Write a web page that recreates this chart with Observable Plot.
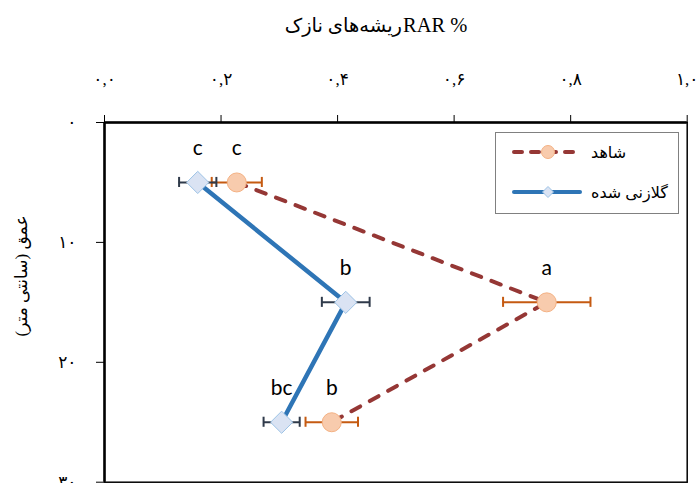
<!DOCTYPE html>
<html><head><meta charset="utf-8">
<script src="https://cdn.jsdelivr.net/npm/d3@7"></script>
<script src="https://cdn.jsdelivr.net/npm/@observablehq/plot@0.6"></script>
<style>body{margin:0;background:#fff}</style>
</head><body><div id="chart"></div>
<script>
const depths = [5, 15, 25];
const controlRAR = [0.227, 0.759, 0.390];
const controlErr = [0.043, 0.075, 0.045];
const galvRAR = [0.160, 0.414, 0.304];
const galvErr = [0.032, 0.041, 0.031];
const controlLetters = ["c", "a", "b"];
const galvLetters = ["c", "b", "bc"];
const xTicks = [0, 0.2, 0.4, 0.6, 0.8, 1.0];
const xTickLabels = ["۰,۰", "۰,۲", "۰,۴", "۰,۶", "۰,۸", "۱,۰"];
const yTicks = [0, 10, 20, 30];
const yTickLabels = ["۰", "۱۰", "۲۰", "۳۰"];
const seriesNames = ["شاهد", "گلازنی شده"];
const xTitleParts = ["ریشه‌های نازک", "RAR", "%"]; // visual order, left to right
const yTitle = "عمق (سانتی متر)\u200F";

const control = depths.map((d, i) => ({depth: d, rar: controlRAR[i], err: controlErr[i], letter: controlLetters[i]}));
const galv = depths.map((d, i) => ({depth: d, rar: galvRAR[i], err: galvErr[i], letter: galvLetters[i]}));

const C_LINE = "#953735", C_FILL = "#F8CBAD", C_STROKE = "#F4B183", C_ERR = "#C55A11";
const G_LINE = "#2E75B6", G_FILL = "#DAE3F3", G_STROKE = "#9DC3E6", G_ERR = "#2F3A4A";
const FONT = "'Liberation Serif','DejaVu Sans',serif";

function errMarks(data, color) {
  return [
    Plot.ruleY(data, {y: "depth", x1: d => d.rar - d.err, x2: d => d.rar + d.err, stroke: color, strokeWidth: 2}),
    Plot.ruleX(data, {x: d => d.rar - d.err, y1: d => d.depth - 0.42, y2: d => d.depth + 0.42, stroke: color, strokeWidth: 2}),
    Plot.ruleX(data, {x: d => d.rar + d.err, y1: d => d.depth - 0.42, y2: d => d.depth + 0.42, stroke: color, strokeWidth: 2})
  ];
}

const chart = Plot.plot({
  width: 698,
  height: 483,
  marginLeft: 104,
  marginRight: 11.3,
  marginTop: 122,
  marginBottom: 1.3,
  style: {fontFamily: FONT, fontSize: "16px", background: "white", color: "black"},
  x: {domain: [0, 1]},
  y: {domain: [0, 30], reverse: true},
  marks: [
    Plot.frame({stroke: "black", strokeWidth: 1.5}),
    Plot.ruleY([0], {stroke: "black", strokeWidth: 2.5}),
    Plot.ruleX([0], {stroke: "black", strokeWidth: 2.5}),
    Plot.axisX({anchor: "top", ticks: xTicks, tickFormat: d => xTickLabels[xTicks.indexOf(d)], tickSize: 8, tickPadding: 30, fontSize: 17, label: null}),
    Plot.axisY({ticks: yTicks, tickFormat: d => yTickLabels[yTicks.indexOf(d)], tickSize: 8, tickPadding: 20, fontSize: 17, label: null}),
    Plot.line(control, {x: "rar", y: "depth", stroke: C_LINE, strokeWidth: 4, strokeDasharray: "10,11", strokeLinecap: "round"}),
    Plot.line(galv, {x: "rar", y: "depth", stroke: G_LINE, strokeWidth: 4.5}),
    ...errMarks(control, C_ERR),
    ...errMarks(galv, G_ERR),
    Plot.dot(control, {x: "rar", y: "depth", r: 9.5, fill: C_FILL, stroke: C_STROKE, strokeWidth: 1}),
    Plot.dot(galv, {x: "rar", y: "depth", r: 10, symbol: "diamond2", fill: G_FILL, stroke: G_STROKE, strokeWidth: 1}),
    Plot.text(control, {x: "rar", y: "depth", text: "letter", dy: -34, fontSize: 21, fontFamily: "Lato", fill: "black"}),
    Plot.text(galv, {x: "rar", y: "depth", text: "letter", dy: -34, fontSize: 21, fontFamily: "Lato", fill: "black"})
  ]
});
document.getElementById("chart").appendChild(chart);

const svg = d3.select(chart);

// x title: three single-direction pieces placed side by side
const sizes = [19.5, 20.5, 20.5];
const pieces = xTitleParts.map((s, i) => svg.append("text").attr("y", 32).attr("text-anchor", "middle")
  .attr("font-size", sizes[i]).attr("font-family", FONT).attr("fill", "black").text(s));
const widths = pieces.map(p => p.node().getComputedTextLength());
const split = 402;
pieces[0].attr("x", split - widths[0] / 2);
pieces[1].attr("x", split + 1 + widths[1] / 2);
pieces[2].attr("x", split + 1 + widths[1] + 5 + widths[2] / 2);

svg.append("text").attr("transform", "translate(27,276) rotate(-90)").attr("text-anchor", "middle")
  .attr("font-size", 17).attr("font-family", FONT).attr("fill", "black").text(yTitle);

// legend
const lg = svg.append("g");
lg.append("rect").attr("x", 495.5).attr("y", 132.5).attr("width", 183).attr("height", 81)
  .attr("fill", "white").attr("stroke", "#808080").attr("stroke-width", 1);
const rows = [
  {y: 152, line: C_LINE, dash: "8,9", name: seriesNames[0], kind: "circle"},
  {y: 192, line: G_LINE, dash: null, name: seriesNames[1], kind: "diamond"}
];
rows.forEach(r => {
  const l = lg.append("line").attr("x1", 514).attr("x2", 580).attr("y1", r.y).attr("y2", r.y)
    .attr("stroke", r.line).attr("stroke-width", 4).attr("stroke-linecap", "round");
  if (r.dash) l.attr("stroke-dasharray", r.dash);
  if (r.kind === "circle") {
    lg.append("circle").attr("cx", 548).attr("cy", r.y).attr("r", 6.5).attr("fill", C_FILL).attr("stroke", C_STROKE);
  } else {
    lg.append("path").attr("d", `M548,${r.y-5.5}L553.5,${r.y}L548,${r.y+5.5}L542.5,${r.y}Z`).attr("fill", G_FILL).attr("stroke", G_STROKE);
  }
  const t = lg.append("text").attr("y", r.y + 6).attr("font-size", 16).attr("text-anchor", "middle")
    .attr("font-family", FONT).attr("fill", "black").text(r.name);
  const w = t.node().getComputedTextLength();
  t.attr("x", 591 + w / 2);
});
</script>
</body></html>
